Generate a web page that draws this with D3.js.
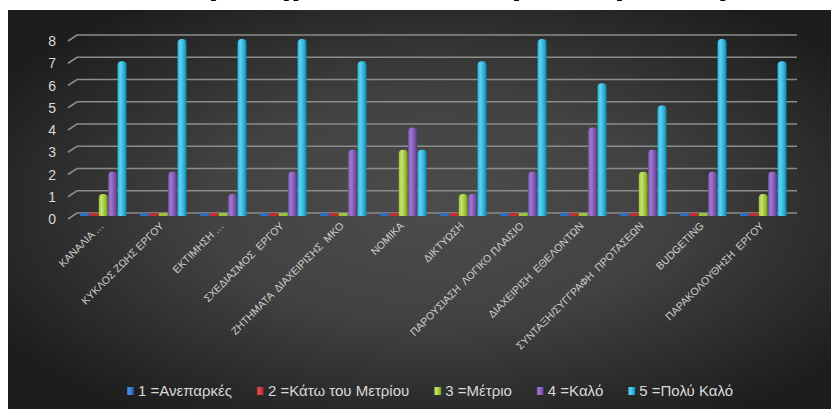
<!DOCTYPE html>
<html>
<head>
<meta charset="utf-8">
<script src="https://cdn.jsdelivr.net/npm/d3@7"></script>
<style>
  body { margin: 0; background: #fff; }
  svg { display: block; }
</style>
</head>
<body>
<script>
// data
const categories = [
  "ΚΑΝΑΛΙΑ …", "ΚΥΚΛΟΣ ΖΩΗΣ ΕΡΓΟΥ", "ΕΚΤΙΜΗΣΗ …", "ΣΧΕΔΙΑΣΜΟΣ  ΕΡΓΟΥ",
  "ΖΗΤΗΜΑΤΑ  ΔΙΑΧΕΙΡΙΣΗΣ  ΜΚΟ", "ΝΟΜΙΚΑ", "ΔΙΚΤΥΩΣΗ", "ΠΑΡΟΥΣΙΑΣΗ  ΛΟΓΙΚΟ ΠΛΑΙΣΙΟ",
  "ΔΙΑΧΕΙΡΙΣΗ  ΕΘΕΛΟΝΤΩΝ", "ΣΥΝΤΑΞΗ/ΣΥΓΓΡΑΦΗ  ΠΡΟΤΑΣΕΩΝ", "BUDGETING", "ΠΑΡΑΚΟΛΟΥΘΗΣΗ  ΕΡΓΟΥ"
];
const seriesNames = ["1 =Ανεπαρκές", "2 =Κάτω του Μετρίου", "3 =Μέτριο", "4 =Καλό", "5 =Πολύ Καλό"];
const inadequate = [0, 0, 0, 0, 0, 0, 0, 0, 0, 0, 0, 0];
const belowAverage = [0, 0, 0, 0, 0, 0, 0, 0, 0, 0, 0, 0];
const average = [1, 0, 0, 0, 0, 3, 1, 0, 0, 2, 0, 1];
const good = [2, 2, 1, 2, 3, 4, 1, 2, 4, 3, 2, 2];
const veryGood = [7, 8, 8, 8, 7, 3, 7, 8, 6, 5, 8, 7];
const yTicks = [0, 1, 2, 3, 4, 5, 6, 7, 8];
const titleText = "Επίπεδο μαθημάτων ανά θεματική ενότητα";

const seriesValues = [inadequate, belowAverage, average, good, veryGood];
const colors = [
  ["#4f8fd6", "#2e6fbf", "#1f4f8f"],
  ["#e05a55", "#c0302f", "#8a1f1d"],
  ["#c4e36a", "#9dc33b", "#6f8f22"],
  ["#a07ad0", "#7d55b0", "#553a80"],
  ["#5fd0ee", "#2bb3d9", "#1a7fa0"]
];

const W = 831, H = 409;
const svg = d3.select("body").append("svg").attr("width", W).attr("height", H);
const defs = svg.append("defs");

const bg = defs.append("radialGradient").attr("id", "bg")
  .attr("cx", "52%").attr("cy", "50%").attr("r", "62%");
bg.append("stop").attr("offset", "0%").attr("stop-color", "#4c4c4c");
bg.append("stop").attr("offset", "45%").attr("stop-color", "#424242");
bg.append("stop").attr("offset", "100%").attr("stop-color", "#1d1d1d");

colors.forEach((c, i) => {
  const g = defs.append("linearGradient").attr("id", "bar" + i)
    .attr("x1", "0%").attr("x2", "100%").attr("y1", "0%").attr("y2", "0%");
  g.append("stop").attr("offset", "0%").attr("stop-color", c[1]);
  g.append("stop").attr("offset", "30%").attr("stop-color", c[0]);
  g.append("stop").attr("offset", "70%").attr("stop-color", c[1]);
  g.append("stop").attr("offset", "100%").attr("stop-color", c[2]);
});

// title sits above the visible area, only descenders show in the white strip
svg.append("clipPath").attr("id", "titleClip")
  .append("rect").attr("x", 0).attr("y", 0).attr("width", W).attr("height", 10);
svg.append("text")
  .attr("clip-path", "url(#titleClip)")
  .attr("x", 415).attr("y", -7)
  .attr("text-anchor", "middle")
  .attr("font-family", "Open Sans, Arial, sans-serif")
  .attr("font-weight", "bold")
  .attr("font-size", 32)
  .attr("fill", "#000")
  .text(titleText);

svg.append("rect").attr("x", 8).attr("y", 10).attr("width", W - 8).attr("height", H - 10)
  .attr("fill", "url(#bg)");

const x0 = d3.scaleBand().domain(categories).range([77, 797]);
const x1 = d3.scaleBand().domain(d3.range(seriesNames.length)).range([3, 50]);
const yGrid = d3.scaleLinear().domain([0, 8]).range([213, 35]);
const yBar = d3.scaleLinear().domain([0, 8]).range([216, 39]);

// gridlines with short perspective stub on the left
const grid = svg.append("g");
yTicks.forEach(t => {
  const y = yGrid(t);
  grid.append("path")
    .attr("d", `M68,${y + 6}L77,${y}H797`)
    .attr("fill", "none")
    .attr("stroke", "#8c8c8c")
    .attr("stroke-width", 1.6);
  grid.append("text")
    .attr("x", 56).attr("y", y + 6)
    .attr("dy", "0.36em")
    .attr("text-anchor", "end")
    .attr("font-family", "Liberation Sans, Arial, sans-serif")
    .attr("font-size", 14)
    .attr("fill", "#d9d9d9")
    .text(t);
});

function topRounded(x, y, w, h, r) {
  r = Math.min(r, w / 2, h);
  return `M${x},${y + h}V${y + r}Q${x},${y} ${x + r},${y}H${x + w - r}Q${x + w},${y} ${x + w},${y + r}V${y + h}Z`;
}

const groups = svg.append("g").selectAll("g")
  .data(categories)
  .join("g")
  .attr("transform", d => `translate(${x0(d)},0)`);

groups.each(function (cat, ci) {
  const g = d3.select(this);
  seriesValues.forEach((vals, si) => {
    const v = vals[ci];
    const bx = x1(si), bw = x1.bandwidth();
    if (v === 0) {
      g.append("rect")
        .attr("x", bx).attr("y", yBar(0) - 3)
        .attr("width", bw - 0.5).attr("height", 3)
        .attr("fill", colors[si][1]);
    } else {
      const top = yBar(v);
      g.append("path")
        .attr("d", topRounded(bx, top, bw - 0.5, yBar(0) - top, 4))
        .attr("fill", `url(#bar${si})`);
    }
  });
});

// category labels rotated
svg.append("g").selectAll("text")
  .data(categories)
  .join("text")
  .attr("transform", d => `translate(${x0(d) + x0.bandwidth() / 2 - 7},222) rotate(-45)`)
  .attr("text-anchor", "end")
  .attr("dy", "0.6em")
  .attr("font-family", "Liberation Sans, Arial, sans-serif")
  .attr("font-size", 10.5)
  .attr("fill", "#d0d0d0")
  .style("white-space", "pre")
  .text(d => d);

// legend
const legend = svg.append("g").attr("font-family", "Liberation Sans, Arial, sans-serif")
  .attr("font-size", 15);
let lx = 0;
seriesNames.forEach((name, i) => {
  const it = legend.append("g");
  it.append("rect").attr("x", 0).attr("y", -4).attr("width", 7).attr("height", 8)
    .attr("fill", `url(#bar${i})`);
  const t = it.append("text").attr("x", 11).attr("y", 0).attr("dy", "0.35em")
    .attr("fill", "#d9d9d9").text(name);
  const w = 11 + t.node().getComputedTextLength();
  it.attr("transform", `translate(${lx},391)`);
  lx += w + 25;
});
const total = lx - 25;
legend.attr("transform", `translate(${430 - total / 2},0)`);
</script>
</body>
</html>
